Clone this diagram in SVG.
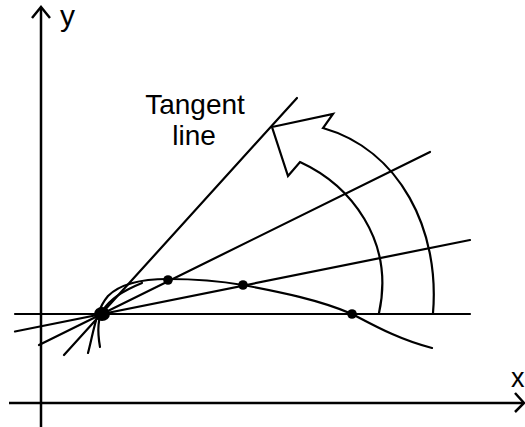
<svg xmlns="http://www.w3.org/2000/svg" width="525" height="427" viewBox="0 0 525 427">
<style>
.ln{fill:none;stroke:#000;stroke-width:2.2;stroke-linecap:round;stroke-linejoin:miter}
.ax{fill:none;stroke:#000;stroke-width:2.5}
.lbl{font-family:"Liberation Sans",Arial,sans-serif;fill:#000}
</style>
<rect width="525" height="427" fill="#fff"/>
<g id="axes">
<line class="ax" x1="41" y1="8" x2="41" y2="427"/>
<polyline class="ax" points="32,18 41,7 50,18"/>
<line class="ax" x1="9" y1="403" x2="524" y2="403"/>
<polyline class="ax" points="515,393 524,403 515,412"/>
<text class="lbl" x="60" y="26" font-size="30">y</text>
<text class="lbl" x="511" y="387" font-size="27">x</text>
</g>
<g id="connectors">
<line class="ln" x1="15" y1="314" x2="470" y2="314"/>
<line class="ln" x1="15" y1="331.5" x2="470" y2="240"/>
<line class="ln" x1="39" y1="345" x2="430" y2="152"/>
<line class="ln" x1="64" y1="355" x2="297" y2="98"/>
</g>
<g id="curve">
<path class="ln" d="M88,353 C94,330 96,310 108,296 C120,284 140,279 168,279 C195,279 220,281 243,285 C280,292 320,300 352,314 C375,326 400,340 432,348"/>
<path class="ln" d="M100,347 C97,330 98,318 103,310 C110,300 120,292 142,283"/>
</g>
<g id="points">
<ellipse cx="102" cy="314" rx="8" ry="7"/>
<circle cx="168" cy="280" r="4.8"/>
<circle cx="243" cy="285" r="4.8"/>
<circle cx="352" cy="314" r="4.8"/>
</g>
<g id="rotation-arrow">
<path class="ln" d="M379,313 C395,240 350,185 300,162 L288,176 L272,127 L333,114 L323,128 C400,150 440,230 433,313"/>
</g>
<g id="label">
<text class="lbl" x="195" y="114" font-size="28" text-anchor="middle">Tangent</text>
<text class="lbl" x="194" y="145" font-size="28" text-anchor="middle">line</text>
</g>
</svg>
